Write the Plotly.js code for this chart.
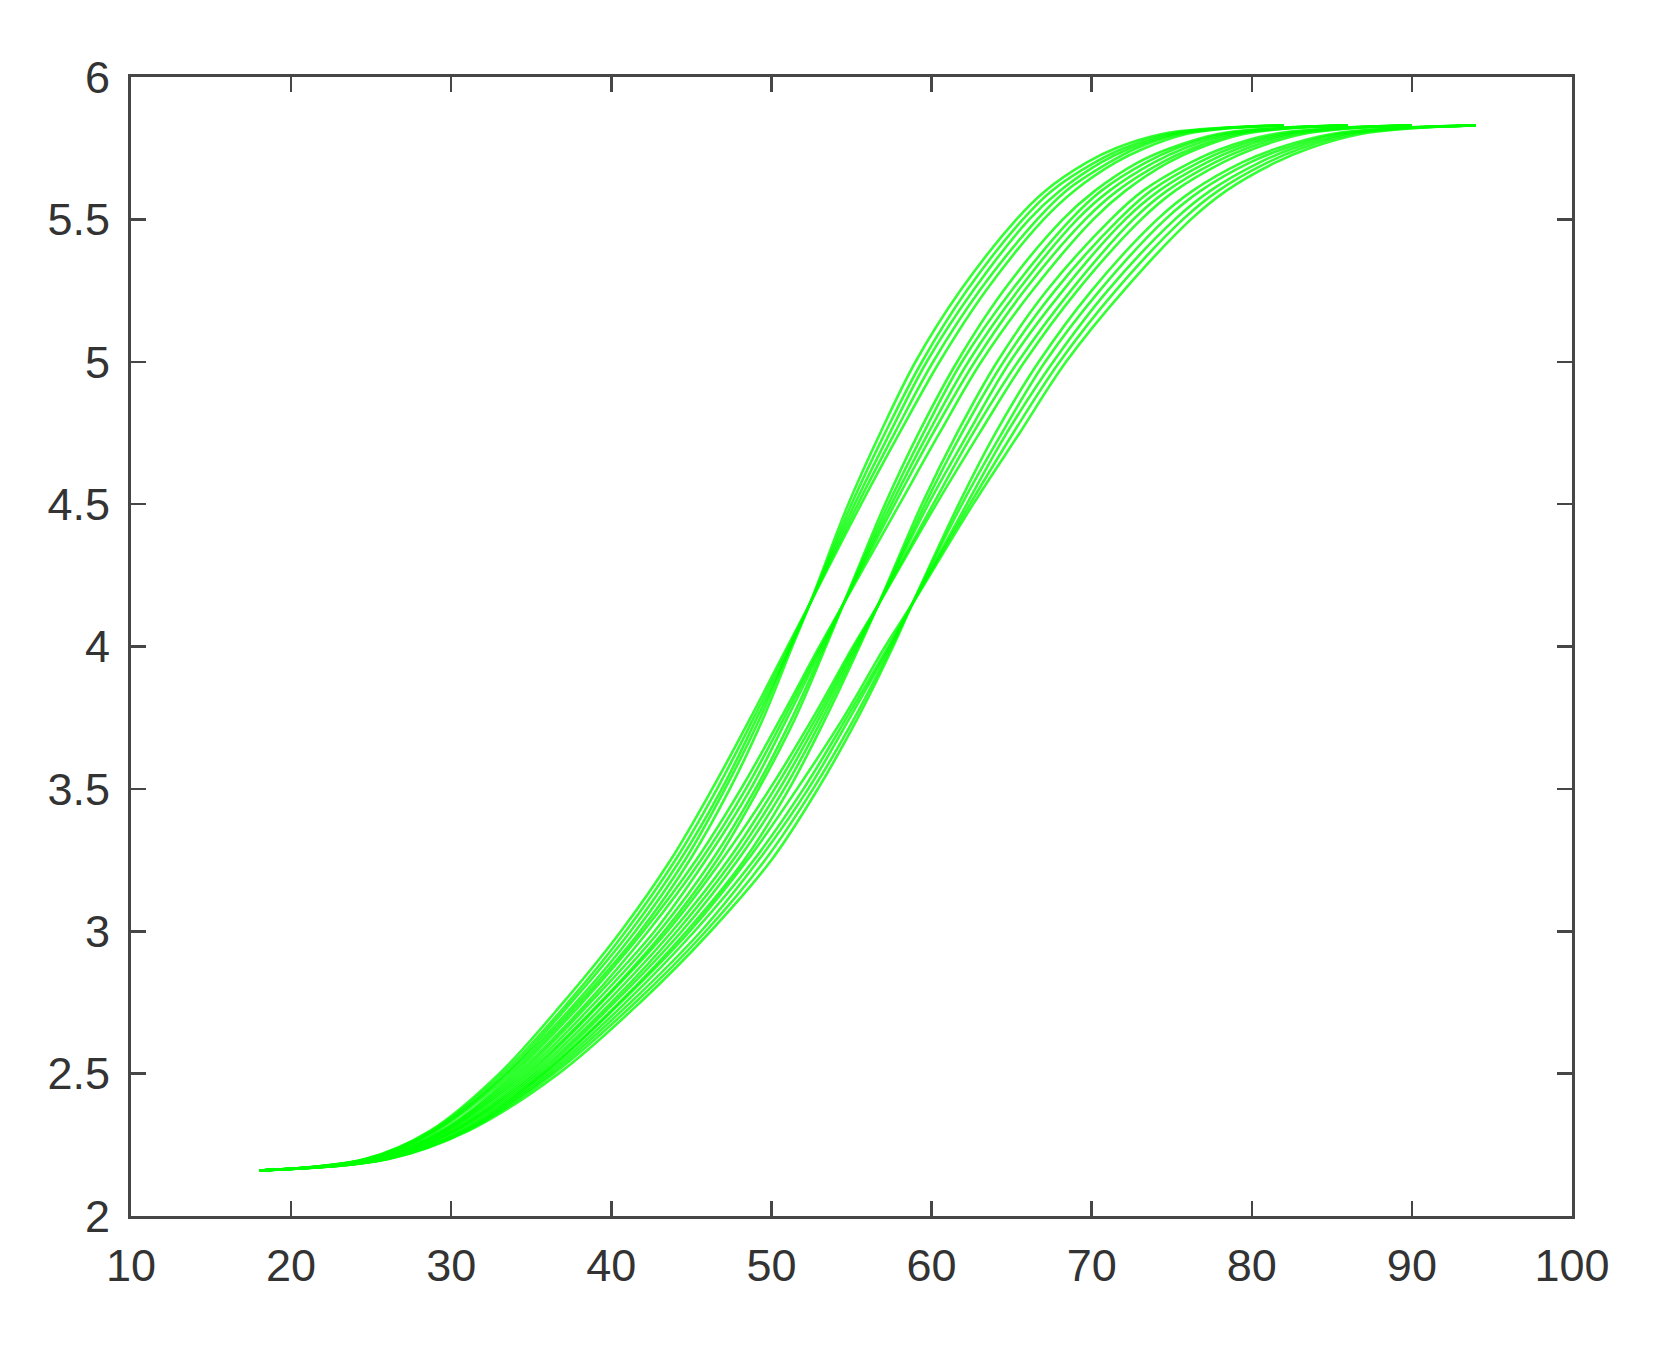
<!DOCTYPE html>
<html>
<head>
<meta charset="utf-8">
<script src="https://cdn.plot.ly/plotly-3.0.1.min.js"></script>
<style>
  html, body { margin: 0; padding: 0; background: #ffffff; }
  #chart { width: 1672px; height: 1354px; }
</style>
</head>
<body>
<div id="chart"></div>
<script>
const yLevels = [2.16, 2.2, 2.3, 2.5, 2.75, 3.0, 3.25, 3.5, 3.75, 4.0, 4.15, 4.5, 4.75, 5.0, 5.25, 5.5, 5.6, 5.7, 5.75, 5.8, 5.82, 5.83];

// Family ending at x = 82
const family82 = [
  [18.0, 24.8, 29.1, 33.7, 38.0, 41.8, 44.9, 47.4, 49.5, 51.3, 52.4, 54.8, 56.8, 59.0, 61.8, 65.3, 67.1, 69.7, 71.5, 74.4, 77.7, 82.0],
  [18.0, 24.8, 29.0, 33.5, 37.8, 41.5, 44.6, 47.1, 49.3, 51.2, 52.4, 55.0, 57.1, 59.4, 62.2, 65.7, 67.5, 70.2, 72.0, 74.8, 77.9, 82.0],
  [18.0, 24.7, 28.9, 33.4, 37.5, 41.2, 44.3, 46.9, 49.1, 51.2, 52.4, 55.2, 57.4, 59.7, 62.6, 66.1, 68.0, 70.6, 72.4, 75.2, 78.2, 82.0],
  [18.0, 24.7, 28.8, 33.2, 37.3, 40.9, 44.0, 46.6, 48.9, 51.1, 52.4, 55.4, 57.7, 60.1, 63.0, 66.6, 68.4, 71.1, 72.8, 75.5, 78.4, 82.0],
  [18.0, 24.6, 28.7, 33.0, 37.0, 40.6, 43.7, 46.3, 48.7, 51.0, 52.4, 55.6, 58.0, 60.5, 63.4, 67.0, 68.9, 71.5, 73.3, 75.9, 78.6, 82.0]
];

// Family ending at x = 86
const family86 = [
  [18.0, 25.2, 29.8, 34.7, 39.3, 43.3, 46.6, 49.2, 51.5, 53.4, 54.5, 57.1, 59.2, 61.6, 64.5, 68.2, 70.2, 72.9, 74.9, 77.9, 81.4, 86.0],
  [18.0, 25.2, 29.7, 34.5, 39.0, 43.0, 46.3, 49.0, 51.3, 53.3, 54.5, 57.3, 59.5, 61.9, 65.0, 68.7, 70.6, 73.4, 75.3, 78.3, 81.7, 86.0],
  [18.0, 25.1, 29.6, 34.3, 38.7, 42.7, 45.9, 48.7, 51.0, 53.2, 54.5, 57.5, 59.8, 62.3, 65.4, 69.1, 71.1, 73.9, 75.8, 78.7, 81.9, 86.0],
  [18.0, 25.1, 29.5, 34.1, 38.5, 42.3, 45.6, 48.4, 50.8, 53.1, 54.5, 57.7, 60.1, 62.7, 65.8, 69.6, 71.6, 74.4, 76.3, 79.1, 82.2, 86.0],
  [18.0, 25.0, 29.4, 33.9, 38.2, 42.0, 45.3, 48.1, 50.6, 53.0, 54.5, 58.0, 60.5, 63.1, 66.3, 70.1, 72.1, 74.8, 76.7, 79.5, 82.4, 86.0]
];

// Family ending at x = 90
const family90 = [
  [18.0, 25.7, 30.5, 35.7, 40.5, 44.7, 48.3, 51.1, 53.4, 55.5, 56.7, 59.4, 61.6, 64.1, 67.2, 71.2, 73.2, 76.2, 78.2, 81.4, 85.1, 90.0],
  [18.0, 25.6, 30.3, 35.5, 40.2, 44.4, 47.9, 50.8, 53.2, 55.4, 56.7, 59.6, 61.9, 64.5, 67.7, 71.7, 73.7, 76.7, 78.7, 81.9, 85.4, 90.0],
  [18.0, 25.6, 30.2, 35.3, 40.0, 44.1, 47.6, 50.5, 53.0, 55.3, 56.7, 59.8, 62.3, 64.9, 68.2, 72.1, 74.2, 77.2, 79.2, 82.3, 85.7, 90.0],
  [18.0, 25.5, 30.1, 35.1, 39.7, 43.8, 47.3, 50.2, 52.8, 55.2, 56.7, 60.1, 62.6, 65.4, 68.7, 72.6, 74.7, 77.7, 79.7, 82.7, 86.0, 90.0],
  [18.0, 25.5, 30.0, 34.9, 39.4, 43.5, 46.9, 49.9, 52.6, 55.1, 56.7, 60.3, 63.0, 65.8, 69.1, 73.1, 75.2, 78.2, 80.2, 83.2, 86.2, 90.0]
];

// Family ending at x = 94
const family94 = [
  [18.0, 26.1, 31.1, 36.7, 41.8, 46.2, 50.0, 52.9, 55.4, 57.6, 58.8, 61.7, 64.0, 66.7, 70.0, 74.1, 76.3, 79.4, 81.6, 85.0, 88.9, 94.0],
  [18.0, 26.0, 31.0, 36.4, 41.5, 45.9, 49.6, 52.6, 55.2, 57.5, 58.8, 61.9, 64.4, 67.1, 70.5, 74.6, 76.8, 79.9, 82.1, 85.4, 89.2, 94.0],
  [18.0, 26.0, 30.9, 36.2, 41.2, 45.6, 49.2, 52.3, 54.9, 57.4, 58.8, 62.2, 64.7, 67.6, 71.0, 75.2, 77.4, 80.5, 82.6, 85.9, 89.4, 94.0],
  [18.0, 25.9, 30.8, 36.0, 40.9, 45.2, 48.9, 52.0, 54.7, 57.3, 58.8, 62.4, 65.1, 68.0, 71.5, 75.7, 77.9, 81.0, 83.1, 86.3, 89.7, 94.0],
  [18.0, 25.9, 30.7, 35.8, 40.6, 44.9, 48.5, 51.6, 54.5, 57.1, 58.8, 62.6, 65.5, 68.4, 72.0, 76.2, 78.4, 81.5, 83.6, 86.8, 90.0, 94.0]
];

const xTicks = [10, 20, 30, 40, 50, 60, 70, 80, 90, 100];
const yTicks = [2, 2.5, 3, 3.5, 4, 4.5, 5, 5.5, 6];
const yTickText = ['2', '2.5', '3', '3.5', '4', '4.5', '5', '5.5', '6'];

const families = [family82, family86, family90, family94];
const traces = [];
families.forEach(fam => {
  fam.forEach(xs => {
    traces.push({
      type: 'scatter',
      mode: 'lines',
      x: xs,
      y: yLevels,
      line: { color: 'rgba(0,255,0,0.8)', width: 2.6, shape: 'spline', smoothing: 1 },
      hoverinfo: 'skip'
    });
  });
});

const tickFont = { family: 'Arial, "Liberation Sans", sans-serif', size: 45, color: '#333333' };

const axisCommon = {
  showgrid: false,
  zeroline: false,
  showline: true,
  linecolor: '#464646',
  linewidth: 3,
  mirror: 'ticks',
  ticks: 'inside',
  ticklen: 15,
  tickwidth: 2.5,
  tickcolor: '#464646',
  tickfont: tickFont
};

const layout = {
  width: 1672,
  height: 1354,
  paper_bgcolor: '#ffffff',
  plot_bgcolor: '#ffffff',
  showlegend: false,
  margin: { l: 131, r: 100, t: 77, b: 138 },
  xaxis: Object.assign({}, axisCommon, {
    range: [10, 100],
    tickmode: 'array',
    tickvals: xTicks,
    ticktext: xTicks.map(String),
    ticklabelstandoff: 8
  }),
  yaxis: Object.assign({}, axisCommon, {
    range: [2, 6],
    tickmode: 'array',
    tickvals: yTicks,
    ticktext: yTickText,
    ticklabelstandoff: 9
  })
};

Plotly.newPlot('chart', traces, layout, { displayModeBar: false, staticPlot: true });
</script>
</body>
</html>
